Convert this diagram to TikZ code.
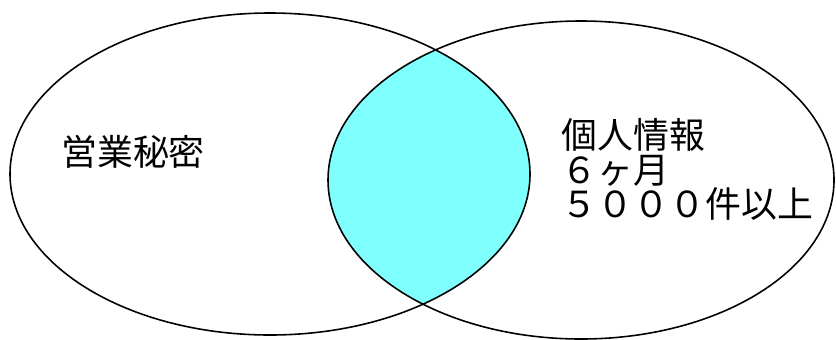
\documentclass[tikz,border=0pt]{standalone}
\usepackage{fontspec}
\newfontfamily\jpfont{Noto Sans CJK JP}
\definecolor{lensblue}{RGB}{128,255,255}

\begin{document}
\begin{tikzpicture}[x=0.01cm, y=-0.01cm, line width=0.45pt,
  label text/.style={font=\jpfont\fontsize{10.2}{9.7}\selectfont, inner sep=0pt}]

  \useasboundingbox (0,0) rectangle (837,339);

  % overlap of the two sets
  \begin{scope}
    \clip (270,174) circle [x radius=260, y radius=161];
    \fill[lensblue] (581,180) circle [x radius=253, y radius=159];
  \end{scope}

  \draw[draw=black] (270,174) circle [x radius=260, y radius=161];
  \draw[draw=black] (581,180) circle [x radius=253, y radius=159];

  \node[label text] (secret) at (133,152) {営業秘密};
  \node[label text, anchor=north west, align=left] (personal) at (561,118)
    {個人情報\\６ヶ月\\５０００件以上};

\end{tikzpicture}
\end{document}
